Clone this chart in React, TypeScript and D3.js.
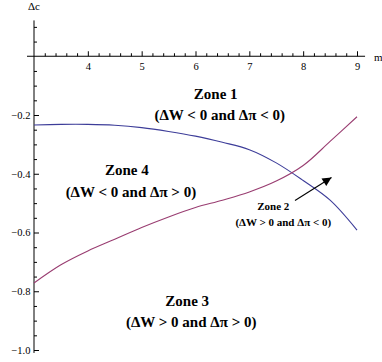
import React, { useEffect, useRef } from "react";
import * as d3 from "d3";

const mValues = [3, 3.5, 4, 4.5, 5, 5.5, 6, 6.5, 7, 7.5, 8, 8.5, 9];
// curve on which delta pi = 0 (blue)
const piZeroCurve = [-0.234, -0.232, -0.232, -0.235, -0.243, -0.256, -0.272, -0.293, -0.318, -0.363, -0.423, -0.49, -0.592];
// curve on which delta W = 0 (red)
const wZeroCurve = [-0.772, -0.71, -0.663, -0.623, -0.583, -0.547, -0.515, -0.49, -0.462, -0.425, -0.372, -0.29, -0.206];

const xMajorTicks = [4, 5, 6, 7, 8, 9];
const yMajorTicks = [-1.0, -0.8, -0.6, -0.4, -0.2];

const zoneTitles = ["Zone 1", "Zone 4", "Zone 3", "Zone 2"];
const zoneConditions = [
  "(ΔW < 0 and Δπ < 0)",
  "(ΔW < 0 and Δπ > 0)",
  "(ΔW > 0 and Δπ > 0)",
  "(ΔW > 0 and Δπ < 0)",
];
// where each zone label sits, in data units [m, Δc]
const zoneAnchors = [
  [6.45, -0.145],
  [4.80, -0.405],
  [5.92, -0.85],
  [7.63, -0.525],
];

const App = () => {
  const ref = useRef<SVGSVGElement>(null);

  useEffect(() => {
    const svg = d3.select(ref.current);
    svg.selectAll("*").remove();

    const font = "'Liberation Serif', 'Times New Roman', Times, serif";

    const x = d3.scaleLinear().domain([3, 9]).range([34, 357]);
    const y = d3.scaleLinear().domain([-1, 0]).range([350, 56.25]);

    // axis lines
    svg.append("line")
      .attr("x1", x(2.87)).attr("x2", x(9.15))
      .attr("y1", y(0)).attr("y2", y(0))
      .attr("stroke", "#000").attr("stroke-width", 1);
    svg.append("line")
      .attr("x1", x(3)).attr("x2", x(3))
      .attr("y1", y(0.122)).attr("y2", y(-1.01))
      .attr("stroke", "#000").attr("stroke-width", 1);

    // x minor ticks
    const xMinor = d3.range(3.2, 9.01, 0.2).filter(v => Math.abs(v - Math.round(v)) > 0.01);
    const xMinorAxis = d3.axisBottom(x).tickValues(xMinor).tickSize(-3).tickFormat(() => "");
    svg.append("g").attr("transform", `translate(0,${y(0)})`).call(xMinorAxis)
      .call(g => g.select(".domain").remove());

    const xAxis = d3.axisBottom(x).tickValues(xMajorTicks).tickSize(-5).tickPadding(6)
      .tickFormat(d3.format("d") as any);
    const gx = svg.append("g").attr("transform", `translate(0,${y(0)})`).call(xAxis);
    gx.select(".domain").remove();
    gx.selectAll("text").attr("font-family", font).attr("font-size", 10.5).attr("fill", "#000");

    // y minor ticks
    const yMinor = d3.range(-1.0, 0.11, 0.05).filter(v => Math.abs(v * 5 - Math.round(v * 5)) > 0.01);
    const yMinorAxis = d3.axisLeft(y).tickValues(yMinor).tickSize(-3).tickFormat(() => "");
    svg.append("g").attr("transform", `translate(${x(3)},0)`).call(yMinorAxis)
      .call(g => g.select(".domain").remove());

    const yAxis = d3.axisLeft(y).tickValues(yMajorTicks).tickSize(-5).tickPadding(3.5)
      .tickFormat(d => d3.format(".1f")(d as number).replace("-", "−"));
    const gy = svg.append("g").attr("transform", `translate(${x(3)},0)`).call(yAxis);
    gy.select(".domain").remove();
    gy.selectAll("text").attr("font-family", font).attr("font-size", 10.5).attr("fill", "#000");

    // axis labels
    svg.append("text").attr("x", 28).attr("y", 10).text("Δc")
      .attr("font-family", font).attr("font-size", 11);
    svg.append("text").attr("x", 374).attr("y", 61).text("m")
      .attr("font-family", font).attr("font-size", 11);

    // curves
    const line = d3.line<number>()
      .x((d, i) => x(mValues[i]))
      .y(d => y(d))
      .curve(d3.curveCatmullRom);

    svg.append("path").datum(piZeroCurve).attr("d", line)
      .attr("fill", "none").attr("stroke", "#3d3d99").attr("stroke-width", 1.1);
    svg.append("path").datum(wZeroCurve).attr("d", line)
      .attr("fill", "none").attr("stroke", "#993d71").attr("stroke-width", 1.1);

    // zone labels
    zoneTitles.forEach((t, i) => {
      const small = i === 3;
      const fs = small ? 11 : 15;
      const cx = x(zoneAnchors[i][0]);
      const g = svg.append("text")
        .attr("text-anchor", "middle")
        .attr("font-family", font)
        .attr("font-weight", "bold")
        .attr("font-size", fs)
        .attr("x", cx)
        .attr("y", y(zoneAnchors[i][1]));
      g.append("tspan").attr("x", cx - (small ? 10 : 4)).text(t);
      g.append("tspan").attr("x", cx).attr("dy", small ? 16 : 21.5).text(zoneConditions[i]);
    });

    // arrow pointing into zone 2
    svg.append("defs").append("marker")
      .attr("id", "head").attr("viewBox", "0 0 10 10")
      .attr("refX", 10).attr("refY", 5)
      .attr("markerWidth", 12).attr("markerHeight", 9)
      .attr("markerUnits", "userSpaceOnUse")
      .attr("orient", "auto")
      .append("path").attr("d", "M0,0 L10,5 L0,10 Z").attr("fill", "#000");
    svg.append("line")
      .attr("x1", 295).attr("y1", 200.5)
      .attr("x2", 331.5).attr("y2", 177.5)
      .attr("stroke", "#000").attr("stroke-width", 1.1)
      .attr("marker-end", "url(#head)");
  }, []);

  return (
    <svg ref={ref} width={382} height={362}
      style={{ position: "absolute", left: 0, top: 0, background: "#fff" }} />
  );
};

export default App;
